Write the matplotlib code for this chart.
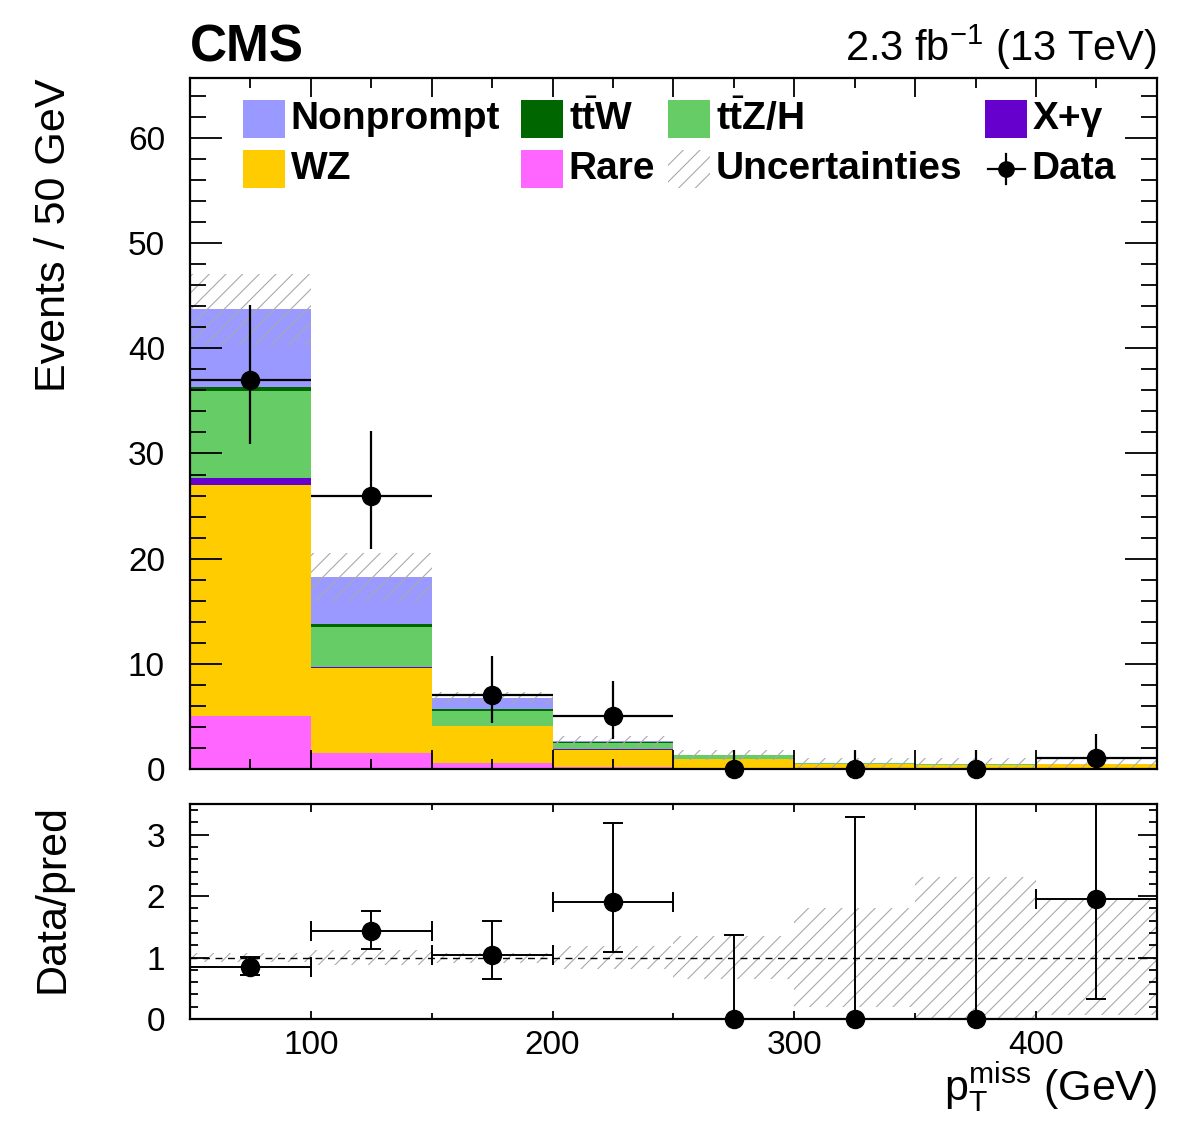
import numpy as np
import matplotlib.pyplot as plt
from matplotlib.patches import Rectangle
from matplotlib.lines import Line2D
from matplotlib.ticker import MultipleLocator

plt.rcParams['font.family'] = ['Liberation Sans', 'DejaVu Sans']
plt.rcParams['mathtext.fontset'] = 'custom'
plt.rcParams['mathtext.rm'] = 'Liberation Sans'
plt.rcParams['mathtext.it'] = 'Liberation Sans:italic'
plt.rcParams['mathtext.bf'] = 'Liberation Sans:bold'
plt.rcParams['hatch.linewidth'] = 0.8

# binning in pT miss (GeV)
bin_edges = np.array([50, 100, 150, 200, 250, 300, 350, 400, 450])

# stacked backgrounds, bottom to top
rare = np.array([5.0, 1.55, 0.6, 0.2, 0.08, 0.04, 0.03, 0.03])
wz = np.array([22.0, 8.1, 3.45, 1.65, 0.85, 0.39, 0.32, 0.40])
xgamma = np.array([0.7, 0.05, 0.05, 0.02, 0.0, 0.0, 0.0, 0.0])
ttz = np.array([8.2, 3.8, 1.45, 0.65, 0.40, 0.12, 0.1, 0.07])
ttw = np.array([0.4, 0.25, 0.12, 0.05, 0.02, 0.01, 0.01, 0.01])
nonprompt = np.array([7.4, 4.5, 1.1, 0.05, 0.0, 0.0, 0.0, 0.0])
unc = np.array([3.4, 2.3, 0.55, 0.5, 0.47, 0.45, 0.6, 0.48])

data = np.array([37, 26, 7, 5, 0, 0, 0, 1])
data_lo = np.array([6.06, 5.07, 2.58, 2.16, 0, 0, 0, 0.83])
data_hi = np.array([7.13, 6.17, 3.77, 3.38, 1.84, 1.84, 1.84, 2.30])

names = ['Rare', 'WZ', 'X+γ', r't$\bar{\mathbf{t}}$Z/H', r't$\bar{\mathbf{t}}$W', 'Nonprompt']
colors = ['#ff66ff', '#ffcc00', '#6600cc', '#66cc66', '#006600', '#9999ff']
stack = [rare, wz, xgamma, ttz, ttw, nonprompt]

lefts = bin_edges[:-1]
widths = np.diff(bin_edges)
centers = lefts + widths / 2
total = np.sum(stack, axis=0)

fig = plt.figure(figsize=(11.82, 11.21), dpi=100)
ax = fig.add_axes([0.1607, 0.314, 0.818, 0.6164])
rax = fig.add_axes([0.1607, 0.091, 0.818, 0.1918])

# main panel
bottom = np.zeros(len(lefts))
for vals, c in zip(stack, colors):
    ax.bar(lefts, vals, width=widths, bottom=bottom, align='edge', color=c, linewidth=0)
    bottom = bottom + vals
ax.bar(lefts, 2 * unc, width=widths, bottom=total - unc, align='edge', color='none',
       edgecolor='#aaaaaa', hatch='//', linewidth=0)

xerr = np.where(data > 0, widths / 2, 0)
ax.errorbar(centers, data, yerr=[data_lo, data_hi], xerr=xerr, fmt='none',
            ecolor='black', elinewidth=1.6, capsize=0)
ax.plot(centers, data, 'o', color='black', markersize=13, clip_on=False, zorder=5)

ax.set_xlim(50, 450)
ax.set_ylim(0, 65.7)
ax.xaxis.set_major_locator(MultipleLocator(50))
ax.xaxis.set_minor_locator(MultipleLocator(25))
ax.yaxis.set_major_locator(MultipleLocator(10))
ax.yaxis.set_minor_locator(MultipleLocator(2))
ax.tick_params(which='both', direction='in', top=True, right=True, labelbottom=False,
               labelsize=24, width=1.3)
ax.tick_params(axis='y', which='major', length=23, pad=18)
ax.tick_params(axis='y', which='minor', length=11.5)
ax.tick_params(axis='x', which='major', length=14)
ax.tick_params(axis='x', which='minor', length=7)
ax.set_ylabel('Events / 50 GeV', fontsize=31, loc='top')
ax.yaxis.set_label_coords(-0.12, 1.0)
for s in ax.spines.values():
    s.set_linewidth(1.6)

ax.text(0.0, 1.008, 'CMS', transform=ax.transAxes, fontsize=37, fontweight='bold',
        ha='left', va='bottom')
ax.text(1.0, 1.008, r'2.3 fb$^{\mathrm{-1}}$ (13 TeV)', transform=ax.transAxes, fontsize=30,
        ha='right', va='bottom')

# legend drawn by hand, ROOT style
box_w, box_h = 0.0435, 0.055
row_y = [0.9132, 0.8408]
entries = [
    (0.0548, 0, 'Nonprompt', '#9999ff'),
    (0.3423, 0, names[4], '#006600'),
    (0.4943, 0, names[3], '#66cc66'),
    (0.8221, 0, names[2], '#6600cc'),
    (0.0548, 1, 'WZ', '#ffcc00'),
    (0.3423, 1, 'Rare', '#ff66ff'),
]
for x0, r, label, c in entries:
    ax.add_patch(Rectangle((x0, row_y[r]), box_w, box_h, transform=ax.transAxes,
                           facecolor=c, linewidth=0))
    ax.text(x0 + box_w + 0.006, row_y[r] + box_h / 2, label, transform=ax.transAxes,
            fontsize=28, fontweight='bold', va='center', ha='left')
ax.add_patch(Rectangle((0.4943, row_y[1]), box_w, box_h, transform=ax.transAxes,
                       facecolor='none', edgecolor='#aaaaaa', hatch='//', linewidth=0))
ax.text(0.4943 + box_w + 0.006, row_y[1] + box_h / 2, 'Uncertainties', transform=ax.transAxes,
        fontsize=28, fontweight='bold', va='center', ha='left')
yc = row_y[1] + box_h / 2
ax.add_line(Line2D([0.825, 0.864], [yc, yc], transform=ax.transAxes, color='black', lw=1.6))
ax.add_line(Line2D([0.8445, 0.8445], [yc - 0.022, yc + 0.022], transform=ax.transAxes,
                   color='black', lw=1.6))
ax.plot([0.8445], [yc], 'o', color='black', markersize=11, transform=ax.transAxes)
ax.text(0.8707, yc, 'Data', transform=ax.transAxes, fontsize=28, fontweight='bold',
        va='center', ha='left')

# ratio panel
ratio = data / total
rband = unc / total
rax.bar(lefts, 2 * rband, width=widths, bottom=1 - rband, align='edge', color='none',
        edgecolor='#aaaaaa', hatch='//', linewidth=0)
rax.axhline(1, color='black', lw=1.0, ls=(0, (5, 4)))
rax.errorbar(centers, ratio, yerr=[data_lo / total, data_hi / total], xerr=xerr,
             fmt='none', ecolor='black', elinewidth=1.4, capsize=7, capthick=1.4)
rax.plot(centers, ratio, 'o', color='black', markersize=13, clip_on=False, zorder=5)

rax.set_xlim(50, 450)
rax.set_ylim(0, 3.5)
rax.xaxis.set_major_locator(MultipleLocator(100))
rax.xaxis.set_minor_locator(MultipleLocator(50))
rax.yaxis.set_major_locator(MultipleLocator(1))
rax.yaxis.set_minor_locator(MultipleLocator(0.2))
rax.tick_params(which='both', direction='in', top=True, right=True, labelsize=24, width=1.3)
rax.tick_params(axis='y', which='major', length=14, pad=18)
rax.tick_params(axis='y', which='minor', length=6)
rax.tick_params(axis='x', which='major', length=6, pad=8)
rax.tick_params(axis='x', which='minor', length=4)
rax.set_ylabel('Data/pred', fontsize=31, loc='top')
rax.yaxis.set_label_coords(-0.121, 1.0)
rax.set_xlabel(r'$\mathrm{p}_{\mathrm{T}}^{\mathrm{miss}}$ (GeV)', fontsize=31, loc='right')
rax.xaxis.set_label_coords(1.0, -0.19)
for s in rax.spines.values():
    s.set_linewidth(1.6)

fig.savefig('out.png', dpi=100)
